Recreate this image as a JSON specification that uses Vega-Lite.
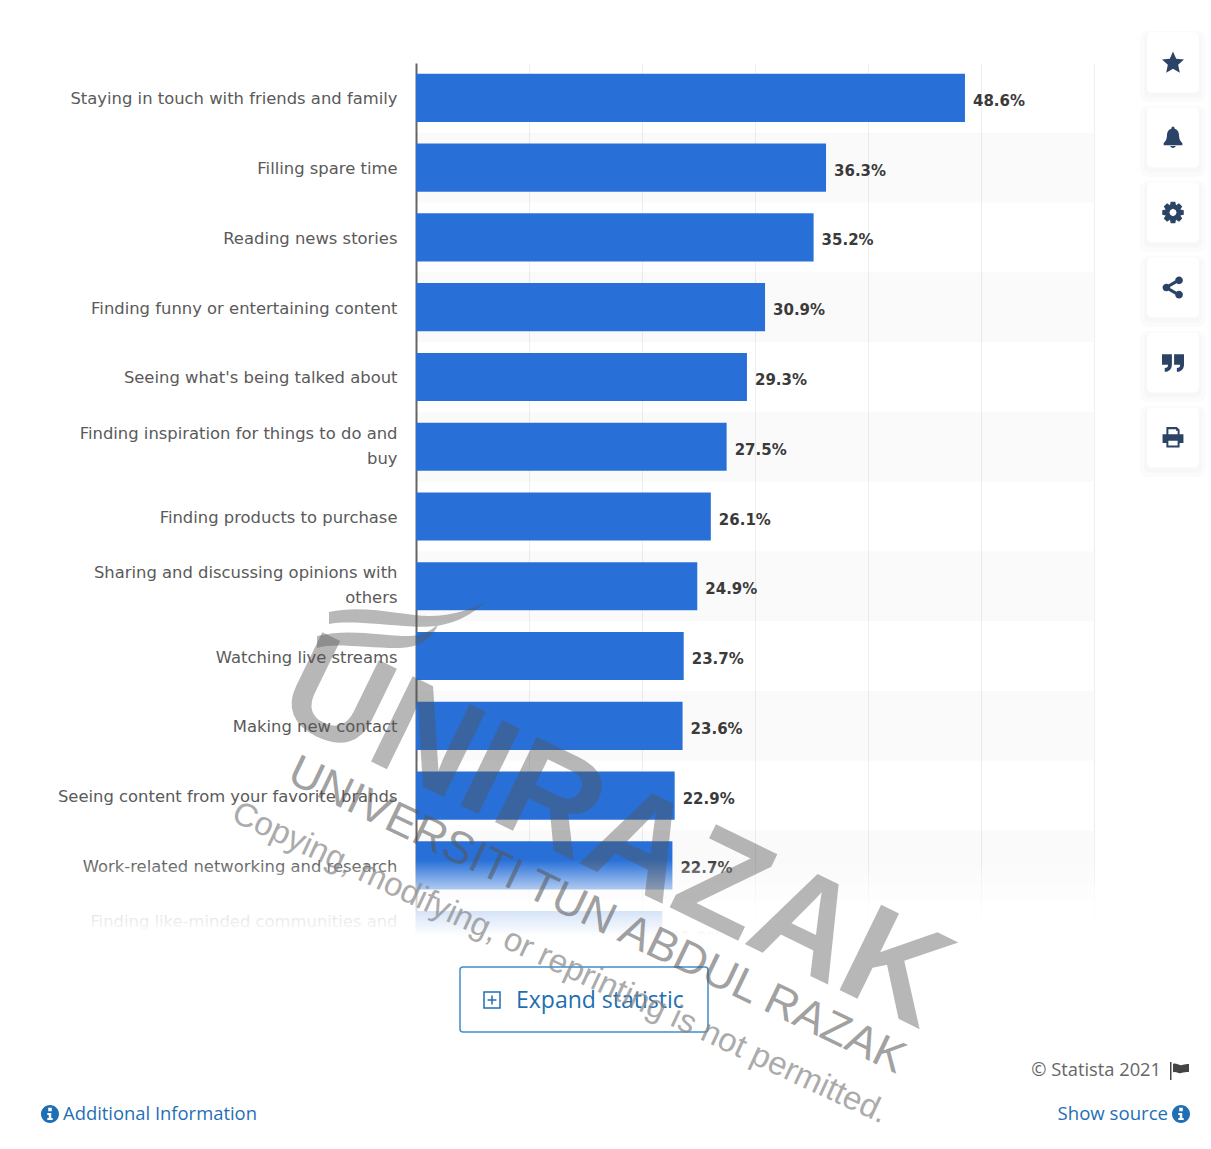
{
  "$schema": "https://vega.github.io/schema/vega-lite/v6.json",
  "width": 680,
  "height": 907,
  "autosize": "none",
  "padding": {"left": 416, "top": 63, "right": 115, "bottom": 179},
  "background": "white",
  "view": {"stroke": null},
  "config": {"font": "DejaVu Sans"},
  "datasets": {
    "reasons": [
      {"label": "Staying in touch with friends and family", "share": 0.486, "rank": 0},
      {"label": "Filling spare time", "share": 0.363, "rank": 1},
      {"label": "Reading news stories", "share": 0.352, "rank": 2},
      {"label": "Finding funny or entertaining content", "share": 0.309, "rank": 3},
      {"label": "Seeing what's being talked about", "share": 0.293, "rank": 4},
      {"label": "Finding inspiration for things to do and|buy", "share": 0.275, "rank": 5},
      {"label": "Finding products to purchase", "share": 0.261, "rank": 6},
      {"label": "Sharing and discussing opinions with|others", "share": 0.249, "rank": 7},
      {"label": "Watching live streams", "share": 0.237, "rank": 8},
      {"label": "Making new contact", "share": 0.236, "rank": 9},
      {"label": "Seeing content from your favorite brands", "share": 0.229, "rank": 10},
      {"label": "Work-related networking and research", "share": 0.227, "rank": 11},
      {"label": "Finding like-minded communities and|interest groups", "share": 0.218, "rank": 12}
    ],
    "tools": [
      {"tool": "favourite"},
      {"tool": "alert"},
      {"tool": "settings"},
      {"tool": "share"},
      {"tool": "cite"},
      {"tool": "print"}
    ]
  },
  "resolve": {"scale": {"x": "independent", "y": "independent", "shape": "independent"}},
  "layer": [
    {
      "data": {"name": "reasons"},
      "layer": [
        {
          "mark": {"type": "bar", "color": "#000000", "height": {"band": 1.45}},
          "encoding": {
            "y": {"field": "label", "type": "nominal", "sort": null},
            "x": {"datum": 0},
            "x2": {"datum": 0.6},
            "opacity": {"condition": {"test": "datum.rank % 2 == 1", "value": 0.02}, "value": 0}
          }
        },
        {
          "mark": {"type": "bar", "color": "#2870d8"},
          "encoding": {
            "y": {
              "field": "label",
              "type": "nominal",
              "sort": null,
              "title": null,
              "scale": {"paddingInner": 0.31, "paddingOuter": 0.155},
              "axis": {
                "labelExpr": "split(datum.label, '|')",
                "labelLineHeight": 25,
                "labelFont": "DejaVu Sans",
                "labelFontSize": 16.4,
                "labelColor": "#5a5a5a",
                "labelPadding": 19,
                "labelLimit": 400,
                "labelOffset": {"condition": {"test": "indexof(datum.value, '|') >= 0", "value": -13}, "value": 1.5},
                "tickSize": 0,
                "domainColor": "#666666",
                "domainWidth": 2
              }
            },
            "x": {
              "field": "share",
              "type": "quantitative",
              "title": null,
              "scale": {"domain": [0, 0.602], "nice": false},
              "axis": {
                "orient": "bottom",
                "labels": false,
                "ticks": false,
                "domain": false,
                "title": null,
                "grid": true,
                "gridColor": "#eeeeee",
                "values": [0.1, 0.2, 0.3, 0.4, 0.5, 0.6]
              }
            }
          }
        },
        {
          "mark": {"type": "text", "align": "left", "dx": 8, "dy": 3, "font": "DejaVu Sans", "fontWeight": "bold", "fontSize": 15, "color": "#3a3a3a"},
          "encoding": {
            "y": {"field": "label", "type": "nominal", "sort": null},
            "x": {"field": "share", "type": "quantitative"},
            "text": {"field": "share", "type": "quantitative", "format": ".1%"}
          }
        }
      ]
    },
    {
      "data": {"values": [{}]},
      "layer": [
        {
          "mark": {"type": "rect", "fill": {"gradient": "linear", "x1": 0, "y1": 0, "x2": 0, "y2": 1, "stops": [
            {"offset": 0, "color": "rgba(255,255,255,0)"},
            {"offset": 0.25, "color": "rgba(255,255,255,0.6)"},
            {"offset": 0.47, "color": "rgba(255,255,255,0.82)"},
            {"offset": 0.68, "color": "rgba(255,255,255,1)"},
            {"offset": 1, "color": "rgba(255,255,255,1)"}
          ]}},
          "encoding": {
            "x": {"datum": 0, "scale": {"domain": [0, 1211], "range": [-416, 795], "nice": false}, "axis": null},
            "x2": {"datum": 1105},
            "y": {"datum": 860, "scale": {"domain": [0, 1149], "range": [-63, 1086], "nice": false}, "axis": null},
            "y2": {"datum": 972}
          }
        },
        {
          "mark": {"type": "rect", "fill": "white", "stroke": "#3d8fd1", "strokeWidth": 1.5, "cornerRadius": 3},
          "encoding": {
            "x": {"datum": 460, "axis": null},
            "x2": {"datum": 708},
            "y": {"datum": 967, "axis": null},
            "y2": {"datum": 1032}
          }
        },
        {
          "mark": {"type": "text", "text": "Expand statistic", "align": "left", "baseline": "middle", "font": "Open Sans", "fontSize": 23, "color": "#1f6fb0"},
          "encoding": {"x": {"datum": 516, "axis": null}, "y": {"datum": 1001, "axis": null}}
        },
        {
          "mark": {"type": "point", "filled": false, "size": 256, "strokeWidth": 1.5, "color": "#1f6fb0", "opacity": 1,
            "shape": "M-1,-1H1V1H-1Z M0,-0.55V0.55 M-0.55,0H0.55"},
          "encoding": {"x": {"datum": 492, "axis": null}, "y": {"datum": 1000, "axis": null}}
        },
        {
          "mark": {"type": "text", "text": "Additional Information", "align": "left", "baseline": "middle", "font": "Open Sans", "fontSize": 18.4, "color": "#1f6fb5"},
          "encoding": {"x": {"datum": 63, "axis": null}, "y": {"datum": 1114, "axis": null}}
        },
        {
          "mark": {"type": "text", "text": "Show source", "align": "right", "baseline": "middle", "font": "Open Sans", "fontSize": 18.6, "color": "#1f6fb5"},
          "encoding": {"x": {"datum": 1168, "axis": null}, "y": {"datum": 1114, "axis": null}}
        },
        {
          "mark": {"type": "text", "text": "© Statista 2021", "align": "right", "baseline": "middle", "font": "Open Sans", "fontSize": 18.3, "color": "#666666"},
          "encoding": {"x": {"datum": 1161, "axis": null}, "y": {"datum": 1071, "axis": null}}
        },
        {
          "mark": {"type": "point", "filled": true, "size": 324, "color": "#1f6fb5", "opacity": 1,
            "shape": "M-1,0 A1,1 0 1 1 1,0 A1,1 0 1 1 -1,0Z M-0.2,-0.7 V-0.3 H0.2 V-0.7Z M-0.3,-0.12 V0.1 H-0.14 V0.45 H-0.3 V0.68 H0.3 V0.45 H0.14 V-0.12Z"},
          "encoding": {"x": {"datum": 50, "axis": null}, "y": {"datum": 1114, "axis": null}}
        },
        {
          "mark": {"type": "point", "filled": true, "size": 324, "color": "#1f6fb5", "opacity": 1,
            "shape": "M-1,0 A1,1 0 1 1 1,0 A1,1 0 1 1 -1,0Z M-0.2,-0.7 V-0.3 H0.2 V-0.7Z M-0.3,-0.12 V0.1 H-0.14 V0.45 H-0.3 V0.68 H0.3 V0.45 H0.14 V-0.12Z"},
          "encoding": {"x": {"datum": 1181, "axis": null}, "y": {"datum": 1114, "axis": null}}
        },
        {
          "mark": {"type": "point", "filled": true, "size": 400, "color": "#444444", "opacity": 1,
            "shape": "M-1,-0.8 H-0.85 V1 H-1Z M-0.7,-0.6 C-0.4,-0.75 -0.1,-0.4 0.2,-0.5 C0.5,-0.6 0.7,-0.6 0.9,-0.6 V0.2 C0.6,0.2 0.4,0.2 0.1,0.3 C-0.2,0.4 -0.4,0.1 -0.7,0.25Z"},
          "encoding": {"x": {"datum": 1180, "axis": null}, "y": {"datum": 1070, "axis": null}}
        },
        {
          "mark": {"type": "point", "filled": true, "size": 25600, "color": "#555555", "opacity": 0.42,
            "shape": "M-0.95,-0.1 C-0.5,-0.2 0,-0.05 0.3,-0.05 C0.6,-0.05 0.85,-0.15 1,-0.22 C0.7,0.05 0.4,0.1 0.1,0.08 C-0.3,0.06 -0.7,0 -0.95,0.05Z M-1.1,0.2 C-0.7,0.1 -0.3,0.2 0.05,0.2 C0.2,0.2 0.3,0.15 0.42,0.05 C0.3,0.3 0.1,0.35 -0.1,0.35 C-0.5,0.35 -0.9,0.28 -1.1,0.35Z"},
          "encoding": {"x": {"datum": 405, "axis": null}, "y": {"datum": 620, "axis": null}}
        },
        {
          "mark": {"type": "text", "text": "UNIRAZAK", "align": "center", "baseline": "middle", "angle": 26, "font": "Liberation Sans", "fontWeight": "bold", "fontSize": 138, "color": "#555555", "opacity": 0.42},
          "encoding": {"x": {"datum": 615, "axis": null}, "y": {"datum": 835, "axis": null}}
        },
        {
          "mark": {"type": "text", "text": "UNIVERSITI TUN ABDUL RAZAK", "align": "center", "baseline": "middle", "angle": 25.6, "font": "Liberation Sans", "fontSize": 45, "color": "#555555", "opacity": 0.55},
          "encoding": {"x": {"datum": 597, "axis": null}, "y": {"datum": 915, "axis": null}}
        },
        {
          "mark": {"type": "text", "text": "Copying, modifying, or reprinting is not permitted.", "align": "center", "baseline": "middle", "angle": 25, "font": "Liberation Sans", "fontSize": 33, "color": "#888888", "opacity": 0.7},
          "encoding": {"x": {"datum": 560, "axis": null}, "y": {"datum": 963, "axis": null}}
        }
      ]
    },
    {
      "data": {"name": "tools"},
      "layer": [
        {
          "mark": {"type": "bar", "color": "#8890a8", "opacity": 0.035, "cornerRadius": 8, "yOffset": 4, "height": {"band": 1.18}},
          "encoding": {
            "y": {"field": "tool", "type": "nominal", "sort": null, "axis": null},
            "x": {"datum": 1140, "scale": {"domain": [0, 1211], "range": [-416, 795], "nice": false}, "axis": null},
            "x2": {"datum": 1206}
          }
        },
        {
          "mark": {"type": "bar", "color": "#8890a8", "opacity": 0.04, "cornerRadius": 6, "yOffset": 3, "height": {"band": 1.07}},
          "encoding": {
            "y": {"field": "tool", "type": "nominal", "sort": null},
            "x": {"datum": 1144, "axis": null},
            "x2": {"datum": 1202}
          }
        },
        {
          "mark": {"type": "bar", "color": "#ffffff", "cornerRadius": 5},
          "encoding": {
            "y": {
              "field": "tool",
              "type": "nominal",
              "sort": null,
              "scale": {"range": [-38, 412], "paddingInner": 0.2, "paddingOuter": 0.1}
            },
            "x": {"datum": 1147, "axis": null},
            "x2": {"datum": 1199}
          }
        },
        {
          "mark": {"type": "point", "filled": true, "size": 484, "color": "#2b4465", "opacity": 1},
          "encoding": {
            "y": {"field": "tool", "type": "nominal", "sort": null},
            "x": {"datum": 1173, "axis": null},
            "shape": {
              "field": "tool",
              "type": "nominal",
              "legend": null,
              "scale": {
                "domain": ["favourite", "alert", "settings", "share", "cite", "print"],
                "range": [
                  "M0,-1 L0.29,-0.35 1,-0.27 0.47,0.2 0.62,0.93 0,0.56 -0.62,0.93 -0.47,0.2 -1,-0.27 -0.29,-0.35Z",
                  "M0,-1 C0.1,-1 0.15,-0.9 0.15,-0.8 C0.45,-0.7 0.55,-0.45 0.55,-0.15 C0.55,0.2 0.7,0.35 0.85,0.5 L0.85,0.7 L-0.85,0.7 L-0.85,0.5 C-0.7,0.35 -0.55,0.2 -0.55,-0.15 C-0.55,-0.45 -0.45,-0.7 -0.15,-0.8 C-0.15,-0.9 -0.1,-1 0,-1Z M-0.25,0.78 L0.25,0.78 C0.2,1 -0.2,1 -0.25,0.78Z",
                  "M-0.208,-0.978 L0.208,-0.978 0.276,-0.665 0.545,-0.839 0.839,-0.545 0.665,-0.276 0.978,-0.208 0.978,0.208 0.665,0.276 0.839,0.545 0.545,0.839 0.276,0.665 0.208,0.978 -0.208,0.978 -0.276,0.665 -0.545,0.839 -0.839,0.545 -0.665,0.276 -0.978,0.208 -0.978,-0.208 -0.665,-0.276 -0.839,-0.545 -0.545,-0.839 -0.276,-0.665Z M0,-0.33 L-0.23,-0.23 -0.33,0 -0.23,0.23 0,0.33 0.23,0.23 0.33,0 0.23,-0.23Z",
                  "M-0.95,0 A0.35,0.35 0 1 1 -0.25,0 A0.35,0.35 0 1 1 -0.95,0Z M0.2,-0.65 A0.35,0.35 0 1 1 0.9,-0.65 A0.35,0.35 0 1 1 0.2,-0.65Z M0.2,0.65 A0.35,0.35 0 1 1 0.9,0.65 A0.35,0.35 0 1 1 0.2,0.65Z M-0.7,-0.12 L0.45,-0.8 0.6,-0.55 -0.55,0.12Z M-0.55,-0.12 L0.6,0.55 0.45,0.8 -0.7,0.12Z",
                  "M-1,-0.75 H-0.1 V0.2 C-0.1,0.6 -0.4,0.85 -0.75,0.85 V0.5 C-0.55,0.5 -0.45,0.4 -0.45,0.2 H-1Z M0.1,-0.75 H1 V0.2 C1,0.6 0.7,0.85 0.35,0.85 V0.5 C0.55,0.5 0.65,0.4 0.65,0.2 H0.1Z",
                  "M-0.6,-0.95 H0.35 L0.6,-0.7 V-0.3 H0.95 V0.5 H0.6 V0.9 H-0.6 V0.5 H-0.95 V-0.3 H-0.6Z M-0.42,-0.75 V-0.3 H0.42 V-0.62 H0.28 V-0.75Z M-0.42,0.3 V0.72 H0.42 V0.3Z"
                ]
              }
            }
          }
        }
      ]
    }
  ]
}
